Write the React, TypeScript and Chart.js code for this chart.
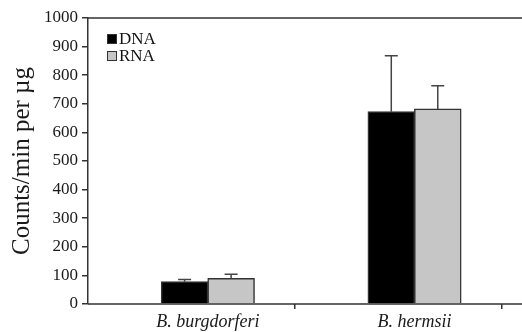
import React, { useEffect, useRef } from 'react';
import { Chart, registerables } from 'chart.js';

Chart.register(...registerables);

const categories = ['B. burgdorferi', 'B. hermsii'];
const seriesLabels = ['DNA', 'RNA'];
const dnaValues = [78, 672];
const rnaValues = [89, 682];
const dnaErrors = [8, 196];
const rnaErrors = [15, 81];
const yMin = 0;
const yMax = 1000;
const yStep = 100;
// x axis (category index units)
const xMin = -0.58;
const xMax = 1.52;
const xTickMarks = [0.42, 1.42];

const FONT = "'Liberation Serif', 'Times New Roman', serif";
const AXIS = '#333333';

const errorBarPlugin = {
  id: 'errorBars',
  afterDatasetsDraw(chart: any) {
    const ctx = chart.ctx;
    const y = chart.scales.y;
    ctx.save();
    ctx.strokeStyle = '#444444';
    ctx.lineWidth = 1.5;
    chart.data.datasets.forEach((ds: any, di: number) => {
      const meta = chart.getDatasetMeta(di);
      meta.data.forEach((bar: any, i: number) => {
        const v = ds.data[i].y;
        const top = y.getPixelForValue(v + ds.errors[i]);
        ctx.beginPath();
        ctx.moveTo(bar.x, bar.y);
        ctx.lineTo(bar.x, top);
        ctx.moveTo(bar.x - 6.5, top);
        ctx.lineTo(bar.x + 6.5, top);
        ctx.stroke();
      });
    });
    ctx.restore();
  },
};

const framePlugin = {
  id: 'frameLines',
  afterDatasetsDraw(chart: any) {
    const ctx = chart.ctx;
    const a = chart.chartArea;
    ctx.save();
    ctx.strokeStyle = AXIS;
    ctx.lineWidth = 1.5;
    ctx.beginPath();
    ctx.moveTo(a.left, a.top);
    ctx.lineTo(chart.width, a.top);
    ctx.moveTo(a.left, a.bottom);
    ctx.lineTo(chart.width, a.bottom);
    ctx.stroke();
    ctx.restore();
  },
};

const legendPlugin = {
  id: 'insideLegend',
  afterDraw(chart: any) {
    const ctx = chart.ctx;
    const a = chart.chartArea;
    ctx.save();
    ctx.font = `17px ${FONT}`;
    ctx.textBaseline = 'middle';
    ctx.textAlign = 'left';
    chart.data.datasets.forEach((ds: any, i: number) => {
      const cy = a.top + 21 + i * 17;
      const bx = a.left + 19;
      ctx.fillStyle = ds.backgroundColor;
      ctx.fillRect(bx, cy - 5, 10, 10);
      ctx.strokeStyle = AXIS;
      ctx.lineWidth = 1;
      ctx.strokeRect(bx + 0.5, cy - 4.5, 9, 9);
      ctx.fillStyle = '#111111';
      ctx.fillText(ds.label, bx + 12, cy + 1);
    });
    ctx.restore();
  },
};

export default function App() {
  const ref = useRef<HTMLCanvasElement | null>(null);

  useEffect(() => {
    document.body.style.margin = '0';
    const canvas = ref.current;
    if (!canvas) return;
    const toPoints = (vals: number[]) => vals.map((v, i) => ({ x: i, y: v }));
    const chart = new Chart(canvas, {
      type: 'bar',
      data: {
        datasets: [
          {
            label: seriesLabels[0],
            data: toPoints(dnaValues),
            errors: dnaErrors,
            backgroundColor: '#000000',
            borderColor: AXIS,
            borderWidth: 1.5,
            inflateAmount: 0.5,
            categoryPercentage: 0.45,
            barPercentage: 1,
          } as any,
          {
            label: seriesLabels[1],
            data: toPoints(rnaValues),
            errors: rnaErrors,
            backgroundColor: '#c6c6c6',
            borderColor: AXIS,
            borderWidth: 1.5,
            inflateAmount: 0.5,
            categoryPercentage: 0.45,
            barPercentage: 1,
          } as any,
        ],
      },
      options: {
        animation: false,
        responsive: false,
        devicePixelRatio: 1,
        layout: { padding: { top: 18, right: 0, left: 0, bottom: 0 } },
        plugins: {
          legend: { display: false },
          tooltip: { enabled: false },
        },
        scales: {
          xTicks: {
            type: 'linear',
            axis: 'x',
            position: 'bottom',
            weight: -1,
            min: xMin,
            max: xMax,
            offset: false,
            afterBuildTicks: (s: any) => {
              s.ticks = xTickMarks.map((v) => ({ value: v }));
            },
            afterFit: (s: any) => {
              s.height = 0;
            },
            grid: {
              offset: false,
              drawOnChartArea: false,
              drawTicks: true,
              tickLength: 5,
              color: AXIS,
              lineWidth: 1.5,
            },
            border: { display: false },
            ticks: { display: false },
          },
          x: {
            type: 'linear',
            position: 'bottom',
            min: xMin,
            max: xMax,
            offset: false,
            afterBuildTicks: (s: any) => {
              s.ticks = categories.map((_, i) => ({ value: i }));
            },
            afterFit: (s: any) => {
              s.height = 28;
            },
            grid: { display: false, drawTicks: false, offset: false },
            border: { display: false },
            ticks: {
              color: '#1a1a1a',
              padding: 7,
              maxRotation: 0,
              autoSkip: false,
              callback: (v: any) => categories[Math.round(Number(v))] ?? '',
              font: { family: FONT, size: 18, style: 'italic' },
            },
          },
          y: {
            min: yMin,
            max: yMax,
            afterFit: (s: any) => {
              s.width = 88;
            },
            grid: {
              drawOnChartArea: false,
              drawTicks: true,
              tickLength: 6,
              color: AXIS,
              lineWidth: 1.5,
            },
            border: { display: true, color: AXIS, width: 1.5 },
            ticks: {
              stepSize: yStep,
              color: '#1a1a1a',
              padding: 4,
              callback: (v: any) => String(v),
              font: { family: FONT, size: 17 },
            },
            title: {
              display: true,
              text: 'Counts/min per µg',
              color: '#1a1a1a',
              padding: { top: 7, bottom: 0 },
              font: { family: FONT, size: 25, lineHeight: 1.2 },
            },
          },
        } as any,
      },
      plugins: [errorBarPlugin, framePlugin, legendPlugin],
    });
    return () => chart.destroy();
  }, []);

  return (
    <div style={{ position: 'fixed', left: 0, top: 0, width: 522, height: 332, background: '#ffffff' }}>
      <canvas ref={ref} width={522} height={332} />
    </div>
  );
}
